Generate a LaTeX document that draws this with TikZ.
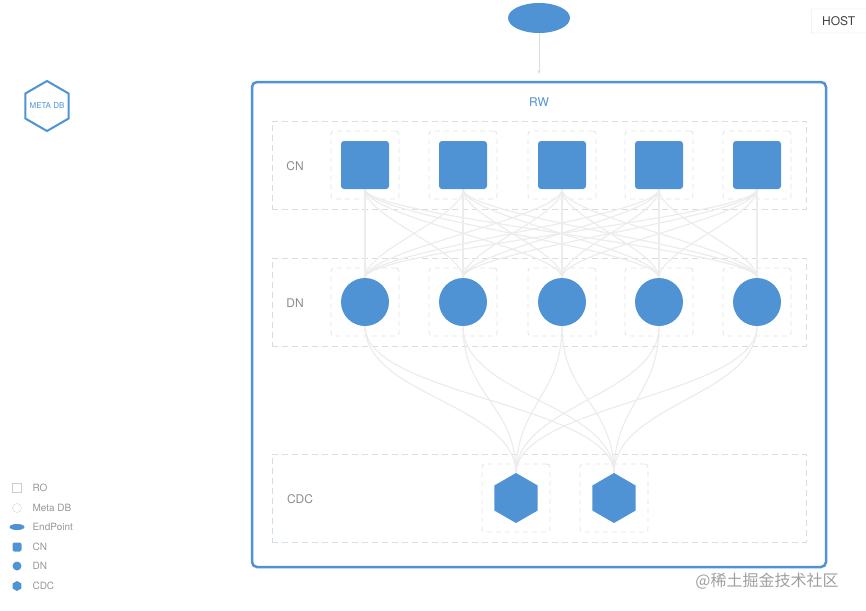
\documentclass[tikz,border=0pt]{standalone}
\usepackage{fontspec}
\setmainfont{TeX Gyre Heros}
\newfontfamily\cjk{Noto Sans CJK SC}
\usepackage{tikz}
\usetikzlibrary{shapes.geometric,arrows.meta}

\definecolor{nodeblue}{HTML}{4F93D4}
\definecolor{dashgray}{HTML}{D3DDE8}
\definecolor{cellgray}{HTML}{E0E3E7}
\definecolor{linkgray}{HTML}{ECECEC}
\definecolor{labelgray}{HTML}{8C8C8C}

\begin{document}
\begin{tikzpicture}[x=1pt,y=-1pt,
    groupbox/.style={draw=dashgray, dash pattern=on 6pt off 4pt, line width=0.9pt, minimum width=534pt, minimum height=88pt, inner sep=0pt},
    cellbox/.style={draw=cellgray, dash pattern=on 5pt off 4pt, line width=0.8pt, rounded corners=3pt, minimum width=68pt, minimum height=68pt, inner sep=0pt},
    cnnode/.style={fill=nodeblue, rounded corners=3pt, minimum size=48pt, inner sep=0pt},
    dnnode/.style={fill=nodeblue, circle, minimum size=48pt, inner sep=0pt},
    cdcnode/.style={fill=nodeblue, regular polygon, regular polygon sides=6, shape border rotate=30, minimum size=50pt, inner sep=0pt},
    link/.style={draw=linkgray, line width=1.2pt},
    grouplabel/.style={text=labelgray, font=\fontsize{12}{14}\selectfont},
    legendlabel/.style={text=labelgray!90, font=\fontsize{10}{12}\selectfont, anchor=west}
]
        \useasboundingbox (0,0) rectangle (866,610);

        % outer box
        \node[draw=nodeblue, line width=2.5pt, rounded corners=5pt, minimum width=574pt, minimum height=485pt, inner sep=0pt] (rw) at (539,324.5) {};
        \node[text=nodeblue, font=\fontsize{12}{14}\selectfont] (rwlabel) at (539,102) {RW};

        % groups
        \node[groupbox] (cngroup) at (539,165) {};
        \node[groupbox] (dngroup) at (539,302) {};
        \node[groupbox] (cdcgroup) at (539,498) {};
        \node[grouplabel] (cnlabel) at (295,166) {CN};
        \node[grouplabel] (dnlabel) at (295,303) {DN};
        \node[grouplabel] (cdclabel) at (300,499) {CDC};

        \foreach \x [count=\i] in {365,463,562,659,757}
        {
            \node[cellbox] (cncell\i) at (\x,165) {};
            \node[cellbox] (dncell\i) at (\x,302) {};
        }
        \foreach \x [count=\i] in {516,614}
            \node[cellbox] (cdccell\i) at (\x,498) {};

        % links
        \foreach \x [count=\i] in {365,463,562,659,757}
            \coordinate (cnb\i) at (\x,189);
        \foreach \x [count=\i] in {365,463,562,659,757}
        {
            \coordinate (dnt\i) at (\x,278);
            \coordinate (dnb\i) at (\x,326);
        }
        \foreach \x [count=\i] in {516,614}
            \coordinate (cdct\i) at (\x,474);

        \foreach \i in {1,...,5}
        \foreach \j in {1,...,5}
            \draw[link] (cnb\i) .. controls +(0,28) and +(0,-28) .. (dnt\j);
        \foreach \i in {1,...,5}
        \foreach \j in {1,2}
            \draw[link] (dnb\i) .. controls +(0,70) and +(0,-70) .. (cdct\j);

        % nodes
        \foreach \x [count=\i] in {365,463,562,659,757}
        {
            \node[cnnode] (cn\i) at (\x,165) {};
            \node[dnnode] (dn\i) at (\x,302) {};
        }
        \foreach \x [count=\i] in {516,614}
            \node[cdcnode] (cdc\i) at (\x,498) {};

        % endpoint and host
        \node[fill=nodeblue, ellipse, minimum width=62pt, minimum height=30pt, inner sep=0pt] (ep) at (539,18) {};
        \coordinate (rwtop) at (539,74);
        \draw[draw=linkgray!85!gray, line width=1pt, -{Stealth[length=4pt]}] (ep) -- (rwtop);
        \node[draw=gray!25, rounded corners=1pt, minimum width=56pt, minimum height=24pt, anchor=west, text=black!75, font=\fontsize{12}{14}\selectfont, inner sep=0pt] (host) at (811,21) {HOST\hspace*{1pt}};

        % meta db
        \node[draw=nodeblue, line width=2pt, regular polygon, regular polygon sides=6, shape border rotate=30, minimum size=50pt, inner sep=0pt] (meta) at (47,106) {};
        \node[text=nodeblue, font=\fontsize{8}{9}\selectfont] (metalabel) at (47,106) {META DB};

        % legend
        \node[draw=gray!40, minimum size=9pt, inner sep=0pt] (lgro) at (17,488) {};
        \node[draw=gray!35, circle, minimum size=9pt, inner sep=0pt] (lgmeta) at (17,508) {};
        \node[fill=nodeblue, ellipse, minimum width=15pt, minimum height=6pt, inner sep=0pt] (lgep) at (17,527) {};
        \node[fill=nodeblue, rounded corners=2pt, minimum size=9pt, inner sep=0pt] (lgcn) at (17,547) {};
        \node[fill=nodeblue, circle, minimum size=9pt, inner sep=0pt] (lgdn) at (17,566) {};
        \node[fill=nodeblue, regular polygon, regular polygon sides=6, shape border rotate=30, minimum size=10pt, inner sep=0pt] (lgcdc) at (17,586) {};
        \node[legendlabel] at (29,488) {RO};
        \node[legendlabel] at (29,508) {Meta DB};
        \node[legendlabel] at (29,527) {EndPoint};
        \node[legendlabel] at (29,547) {CN};
        \node[legendlabel] at (29,566) {DN};
        \node[legendlabel] at (29,586) {CDC};

        \node[text=gray!75, font=\cjk\fontsize{16}{18}\selectfont] (mark) at (767,581) {@稀土掘金技术社区};
    \end{tikzpicture}
\end{document}
